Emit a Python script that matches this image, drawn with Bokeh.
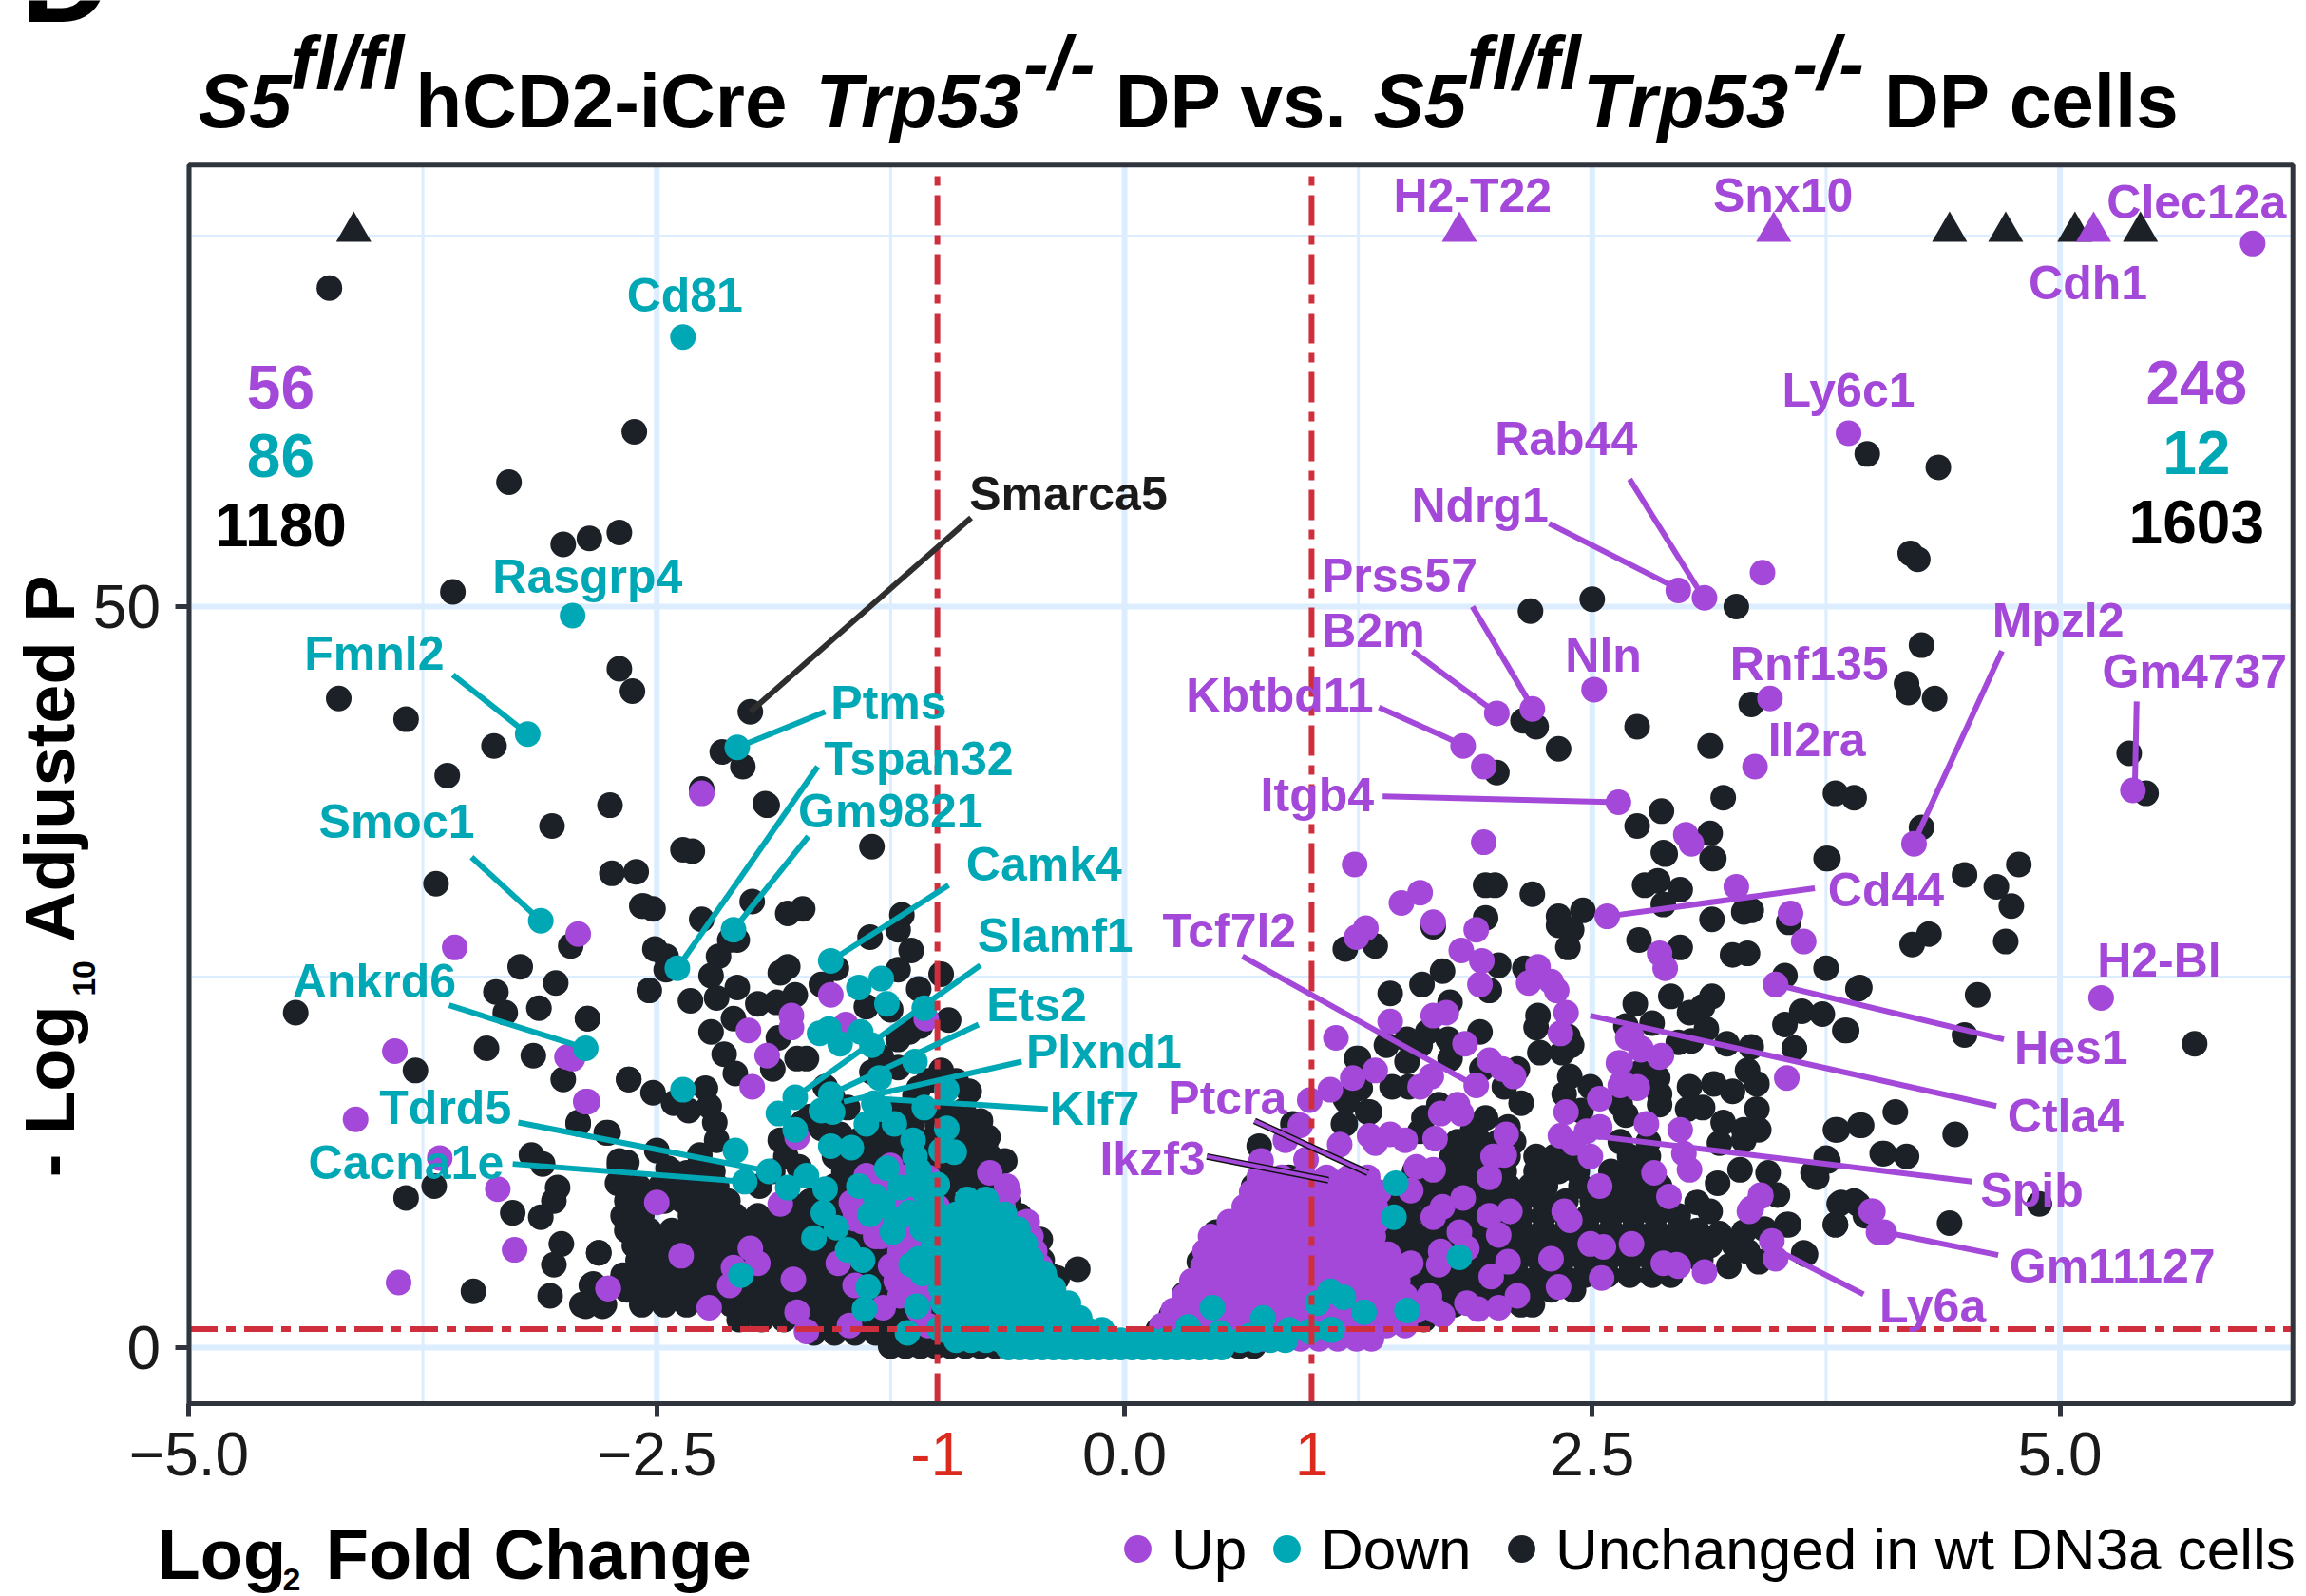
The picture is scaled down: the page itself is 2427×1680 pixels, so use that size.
from bokeh.plotting import figure
from bokeh.models import FixedTicker, Label, Legend, LegendItem, LinearAxis, Range1d
from bokeh.core.properties import value
from bokeh.embed import file_html
from bokeh.resources import INLINE
import math

PURPLE = "#A348D8"
TEAL = "#00A8B5"
DARK = "#1C2127"
RED = "#CF2F3D"
FRAME = "#30353D"
GRIDC = "#DCEDFF"
FONT = "Liberation Sans"

# ---------- sparse points (log2FC, -log10 padj) ----------
black_x = [-4.25,-2.62,-3.29,-3.0,-2.86,-2.70,-3.59,-2.70,-2.63,-4.20,-3.84,-3.37,-3.62,-2.75,-3.06,-3.68,-2.74,-2.61,-2.52,-2.36,
 -4.43,-2.96,-3.23,-3.04,-3.36,-3.31,-3.13,-2.87,-3.41,-3.16,-3.79,-3.0,-2.65,-2.92,-2.76,-3.17,-3.11,-3.69,-3.84,-2.70,-2.70,-3.03,-3.05,-3.27,-3.12,-3.01,-3.05,-2.81,-3.48,-3.07,-2.85,-2.9,-2.78,
 -2.0,-2.15,-1.92,-1.35,-2.04,-2.26,-2.31,-1.91,-2.58,-2.57,-2.26,-1.99,-1.80,-1.72,-2.51,-2.45,-2.45,-2.54,-2.17,-2.11,-2.21,-2.07,-2.32,-2.18,-2.07,-1.76,-1.96,-1.86,-1.84,-1.80,-2.09,-2.87,-2.21,-2.14,-2.08,-1.85,-1.75,-1.88,-1.70,-2.65,-2.52,-2.24,-2.41,-2.33,-2.22,-2.19,-2.18,-2.27,-2.77,-2.92,-2.5,-2.70,-2.66,-2.71,-2.44,-2.34,-2.81,-2.84,-2.88,-2.79,
 -1.62,-1.54,-1.36,-1.19,-1.21,-1.14,-1.21,-1.10,-0.98,-0.94,-1.38,-1.25,-1.15,-1.09,-1.21,-0.98,-0.83,-0.90,-0.77,-0.73,-0.64,-0.62,-0.53,-0.45,-0.25,-0.36,-1.35,-1.21,-1.56,-1.48,-1.84,-1.81,-1.74,-1.54,-1.40,-1.25,-1.30,-1.10,-1.0,-0.88,-0.80,-0.72,
 3.97,4.35,4.20,4.24,3.27,2.50,2.17,4.26,4.18,4.19,4.33,3.35,2.13,2.2,2.32,2.74,3.13,5.37,1.99,3.80,3.90,5.46,3.20,2.87,2.74,3.13,2.89,3.15,3.75,4.26,4.49,4.78,4.66,4.74,4.71,4.30,4.21,4.56,4.49,5.72,3.92,4.12,3.93,3.80,4.44,4.18,4.06,3.75,3.70,4.89,4.41,3.82,3.92,3.80,3.64,3.54,3.58,3.85,
 1.18,1.34,1.42,1.59,1.70,1.74,1.93,1.98,1.93,1.65,2.18,2.32,2.45,2.32,2.39,2.37,2.00,2.14,1.95,2.88,3.14,2.78,2.85,2.97,2.88,3.14,3.31,3.35,3.55,3.76,2.75,2.97,3.25,3.33,3.53,3.75,3.93,2.92,3.14,2.73,3.02,3.09,2.82,2.68,3.11,2.96,3.03,3.22,3.35,3.53,3.62,3.73,3.86,3.58,3.33,3.38,3.02,3.15,3.25,3.01,3.09,3.38,3.20,3.31,3.39,3.31,3.18,3.81,3.94,3.76,3.68,4.05,3.44,3.29,3.17,3.49,3.06,3.13,3.55,3.80,3.83,3.9,3.96,3.18,3.31,3.42,3.33,3.39,3.63,3.23,
 1.24,1.18,1.30,1.18,1.26,1.40,1.51,1.51,1.43,1.52,1.58,1.62,1.73,1.74,1.90,1.91,2.10,2.03,2.12,2.21,2.2,2.22,2.34,2.37,2.39,1.68,1.60,1.58,1.93,1.86,1.87,1.82,1.74,1.70,2.05,2.38,2.49,2.35,2.44,2.68,2.85,2.86,2.86,2.65,2.76,
 0.49,0.72,0.90,0.69,0.88,1.17,1.31,1.19,1.25,0.40,0.32,0.25,0.18,0.58,0.8,
 -1.72,-1.62,-1.52,-1.42,-1.32,-1.6,-1.68,-1.5,-1.4,-1.12,-1.05]
black_y = [71.5,61.8,58.4,54.2,54.6,55.0,51.0,45.8,44.3,43.8,42.4,40.6,38.6,36.6,35.2,31.3,32.0,32.1,29.6,33.6,
 22.6,27.1,25.7,24.6,24.0,22.6,22.9,22.2,20.2,19.7,18.7,18.1,18.1,15.1,14.5,13.0,12.4,10.9,10.1,12.3,11.2,10.8,9.9,9.1,8.8,7.0,5.6,6.4,3.8,3.5,4.2,2.9,2.9,
 42.9,40.2,36.7,33.8,39.2,37.7,33.5,36.6,29.8,29.8,28.9,30.1,29.3,29.6,26.9,26.4,25.5,24.1,26.4,27.5,25.1,27.5,23.4,23.6,24.3,23.8,23.2,23.3,25.3,25.7,22.2,22.2,21.3,19.8,18.5,20.9,19.5,18.8,19.5,18.1,17.2,17.5,16.5,16.0,16.3,15.2,14.0,13.0,14.5,15.2,13.3,12.6,12.5,11.1,12.1,11.8,6.4,4.3,2.8,2.8,
 24.5,25.6,27.7,29.2,28.2,26.8,25.5,24.2,25.2,22.1,23.0,22.8,21.3,21.7,20.8,18.7,17.3,18.0,15.3,14.2,12.6,9.9,8.5,7.3,5.3,4.7,18.6,18.9,16.9,16.2,14.0,12.9,12.2,12.9,13.8,13.8,19.6,17.5,15.5,14.6,13.2,11.4,
 60.3,59.4,53.6,53.2,50.0,50.5,49.7,47.4,44.8,44.2,43.8,43.4,42.3,41.9,40.4,41.9,40.6,40.1,38.8,37.4,37.1,37.4,37.1,36.2,35.2,34.7,33.3,33.0,33.0,35.1,31.9,32.6,31.1,29.8,27.4,27.9,27.2,23.8,21.1,20.5,24.2,15.9,15.0,14.7,14.4,12.9,13.1,12.8,11.5,9.7,8.4,9.7,9.7,8.3,6.3,8.3,20.2,21.4,
 26.9,27.1,23.9,24.5,25.4,23.3,31.2,31.2,29.0,28.4,30.6,29.1,29.5,28.5,28.2,27.0,25.8,25.6,24.1,33.4,33.0,31.2,31.5,30.9,29.9,28.9,29.4,29.5,28.7,33.0,27.5,27.0,26.5,26.6,25.1,25.6,24.3,23.7,23.7,23.2,22.6,23.0,21.9,21.7,21.5,20.6,20.7,20.5,20.3,21.8,22.7,22.5,21.4,20.2,18.7,17.8,17.6,17.8,17.3,16.1,16.2,16.1,15.2,14.7,14.7,14.0,13.8,14.7,15.0,12.6,11.8,13.1,11.8,12.0,11.1,10.3,9.8,9.2,8.3,8.3,9.8,9.9,8.9,7.7,7.8,8.0,6.5,5.8,6.4,5.5,
 19.5,16.8,15.9,15.1,17.5,20.4,20.8,19.3,17.6,17.6,20.4,21.3,20.8,19.5,21.3,18.8,18.8,17.6,16.5,22.4,21.6,19.9,19.9,21.0,20.4,16.4,15.5,14.6,15.5,14.6,13.5,12.2,12.4,11.1,14.9,18.3,17.6,17.1,16.0,15.7,18.2,17.1,16.4,16.4,18.6,
 7.8,13.6,15.1,10.9,11.5,15.1,15.9,16.6,19.5,5.8,3.6,2.2,1.2,0.9,0.8,
 15.2,14.8,14.4,14.0,13.6,17.6,15.6,12.2,11.4,17.0,18.0]

# dense black mass: each row holds the fold changes read at one -log10 level
black_rows = {
 0.1: [-1.25,-1.17,-1.09,-1.01,-0.93,-0.85,-0.77,-0.69,-0.61,-0.53,-0.45,-0.37,0.37,0.45,0.53,0.61,0.69],
 1.0: [-1.66,-1.55,-1.44,-1.33,-1.22,-1.11,-1.0,-0.89,-0.78,-0.67,-0.56,-0.45,0.62,0.73,0.84,0.95,1.06,1.14],
 1.9: [-2.06,-1.94,-1.82,-1.7,-1.58,-1.46,-1.34,-1.22,-1.1,-0.98,-0.86,-0.74,-0.62,-0.5,-0.38,1.12,1.24,1.36,1.48,1.6],
 2.9: [-2.58,-2.46,-2.34,-2.22,-2.1,-1.98,-1.86,-1.74,-1.62,-1.5,-1.38,-1.26,-1.14,-1.02,-0.9,-0.78,-0.66,-0.54,-0.42,-0.35,1.52,1.64,1.76,1.88,2.0,2.12,2.18],
 3.9: [-2.66,-2.54,-2.42,-2.3,-2.18,-2.06,-1.94,-1.82,-1.7,-1.58,-1.46,-1.34,-1.22,-1.1,-0.98,-0.86,-0.74,-0.62,-0.5,-0.38,1.56,1.68,1.8,1.92,2.04,2.16,2.28,2.4],
 4.9: [-2.68,-2.56,-2.44,-2.32,-2.2,-2.08,-1.96,-1.84,-1.72,-1.6,-1.48,-1.36,-1.24,-1.12,-1.0,-0.88,-0.76,-0.64,-0.52,-0.4,1.5,1.62,1.74,1.86,1.98,2.1,2.22,2.34,2.46,2.58,2.7,2.82,2.92],
 5.9: [-2.6,-2.48,-2.36,-2.24,-2.12,-2.0,-1.88,-1.76,-1.64,-1.52,-1.4,-1.28,-1.16,-1.04,-0.92,-0.8,-0.68,-0.56,-0.44,1.5,1.62,1.74,1.86,1.98,2.1,2.22,2.34,2.46,2.58,2.7,2.82,2.94,3.08],
 6.9: [-2.62,-2.5,-2.38,-2.26,-2.14,-2.02,-1.9,-1.78,-1.66,-1.54,-1.42,-1.3,-1.18,-1.06,-0.94,-0.82,-0.7,-0.58,-0.48,1.45,1.57,1.69,1.81,1.93,2.05,2.17,2.29,2.41,2.53,2.65,2.77,2.89,3.01,3.13,3.26],
 7.9: [-2.66,-2.54,-2.42,-2.3,-2.18,-2.06,-1.94,-1.82,-1.7,-1.58,-1.46,-1.34,-1.22,-1.1,-0.98,-0.86,-0.74,-0.62,-0.55,1.4,1.52,1.64,1.76,1.88,2.0,2.12,2.24,2.36,2.48,2.6,2.72,2.84,2.96,3.06],
 8.9: [-2.68,-2.58,-2.32,-2.2,-2.08,-1.96,-1.84,-1.72,-1.6,-1.48,-1.36,-1.24,-1.12,-1.0,-0.88,-0.76,-0.64,-0.56,1.4,1.52,1.64,1.76,1.88,2.0,2.12,2.24,2.36,2.48,2.6,2.72,2.84,2.96],
 9.9: [-2.66,-2.56,-2.46,-2.36,-2.24,-2.12,-1.8,-1.68,-1.56,-1.44,-1.32,-1.2,-1.08,-0.96,-0.84,-0.72,-0.62,1.4,1.52,1.64,1.76,1.88,2.0,2.12,2.24,2.36,2.5,2.62,2.74,2.86],
 10.9: [-2.6,-2.48,-2.38,-2.28,-2.18,-1.95,-1.55,-1.44,-1.32,-1.2,-1.08,-0.96,-0.84,-0.72,1.45,1.57,1.69,1.81,1.93,2.05,2.17,2.25,2.44,2.56,2.68,2.8,2.86],
 11.9: [-2.42,-2.3,-2.2,-1.88,-1.5,-1.4,-1.28,-1.16,-1.04,-0.92,-0.8,-0.7,1.55,1.67,1.79,1.91,2.03,2.2,2.32,2.42,2.6,2.7,2.8],
 12.9: [-1.55,-1.44,-1.32,-1.2,-1.08,-0.96,-0.84,-0.72,1.75,1.87,1.99,2.05,2.2,2.3,2.4,2.7,2.8],
 13.9: [-1.3,-1.18,-1.06,-0.94,-0.82,-0.74,1.78,1.9,2.0,2.08,2.65,2.8],
 15.0: [-1.28,-1.14,-1.0,-0.88,-0.8],
 16.0: [-1.2,-1.08,-0.96,-0.86],
}

purple_x = [3.87,3.41,2.96,3.10,2.51,3.45,2.18,1.99,1.81,3.37,1.92,5.39,4.22,2.64,3.03,3.0,1.92,1.23,3.27,3.56,3.63,3.48,2.58,3.54,5.22,4.0,4.06,3.46,3.48,3.35,3.4,6.03,
 -2.26,-2.92,-3.58,-3.90,-2.98,-4.11,-2.88,-3.66,-3.35,-3.26,-3.88,-2.76,
 1.48,1.58,1.65,1.29,1.24,1.88,1.80,1.91,1.90,2.21,2.16,2.31,2.28,2.36,2.33,2.86,2.89,1.42,1.65,1.72,1.13,1.82,1.95,2.02,2.08,1.88,1.64,1.58,1.34,1.22,1.10,0.99,1.78,1.69,1.80,2.04,1.66,2.03,1.97,1.95,1.31,1.42,1.50,1.34,1.15,0.94,0.86,0.73,0.97,1.56,1.65,1.53,2.36,2.33,2.40,2.47,2.54,2.49,2.54,2.65,2.66,2.74,2.69,2.76,2.86,2.79,2.97,2.99,2.54,2.83,2.91,2.35,2.38,1.81,1.70,1.65,1.95,2.06,2.0,2.05,1.96,2.10,2.0,1.89,1.83,1.79,1.69,1.68,1.83,2.28,2.32,2.49,2.56,2.71,2.55,2.88,2.96,1.41,1.53,1.63,1.70,2.64,2.65,2.74,2.87,2.71,2.76,3.02,3.40,3.34,3.99,4.03,2.95,3.10,
 -1.57,-1.78,-1.78,-2.01,-1.91,-1.99,-1.49,-1.06,-2.95,-2.87,-1.75,-1.84,-2.50,-2.37,-2.0,-1.96,-2.09,-2.11,-2.22,-2.76,-1.77,-1.75,-1.70,-1.47,-1.53,-1.44,-1.29,-1.23,-1.38,-1.25,-1.46,-1.44,-1.33,-1.15,-1.15,-0.94,-0.72,-0.63,-0.67,-0.54,-0.92,-0.9]
purple_y = [61.7,52.3,51.1,50.6,44.4,43.8,43.1,42.8,40.6,39.2,39.2,37.6,34.0,36.8,34.0,34.6,34.1,32.6,31.1,29.3,27.4,24.5,29.1,18.2,23.6,9.2,7.8,7.2,6.0,9.4,10.3,74.5,
 37.4,27.9,27.0,20.0,19.6,15.4,16.6,12.8,10.7,6.6,4.4,4.0,
 30.0,30.7,28.7,28.3,27.7,28.2,26.8,26.1,24.5,25.7,24.6,24.1,24.7,22.6,21.2,26.6,25.6,22.0,22.4,22.6,20.9,20.5,19.4,18.8,18.3,17.7,18.3,17.6,18.7,18.2,17.4,16.7,16.4,15.8,15.8,14.4,14.1,13.0,12.9,11.5,14.3,14.4,14.0,13.8,13.7,15.0,14.0,12.6,12.7,12.2,12.0,10.6,15.9,14.3,13.8,14.6,14.9,12.9,16.8,19.2,17.9,17.5,20.9,20.2,19.6,15.1,14.7,13.1,10.9,11.8,10.2,9.2,8.6,10.1,9.5,8.8,8.9,9.2,7.6,5.8,4.8,3.5,2.7,2.6,3.0,7.8,6.5,5.6,6.7,6.0,4.1,7.0,6.8,7.0,4.7,5.7,5.5,6.3,5.7,3.5,2.2,19.2,17.7,17.6,19.7,21.0,20.1,12.0,10.2,9.2,9.2,7.8,5.6,5.1,
 23.8,22.4,21.6,21.4,19.7,17.6,21.8,22.2,19.5,16.6,14.2,9.7,9.8,6.2,6.7,5.7,5.4,4.2,2.7,4.0,4.6,2.4,1.1,1.5,5.7,4.2,2.7,5.3,11.6,12.3,9.8,8.7,7.5,5.8,4.1,2.3,11.8,10.9,9.6,8.4,8.0,0.6]

# dense purple mass
purple_rows = {
 0.6: [0.14,0.24,0.34,0.44,0.54,0.64,0.74,0.84,0.94,1.04,1.14,1.24,1.32],
 1.5: [-1.05,-0.8,-0.6,-0.45,-0.3,0.2,0.3,0.4,0.5,0.6,0.7,0.8,0.9,1.0,1.1,1.2,1.3,1.4,1.5],
 2.5: [-1.1,-0.85,-0.62,-0.45,-0.34,0.26,0.36,0.46,0.56,0.66,0.76,0.86,0.96,1.06,1.16,1.26,1.36,1.46,1.56,1.66],
 3.5: [-1.2,-1.05,-0.95,0.32,0.42,0.52,0.62,0.72,0.82,0.92,1.02,1.12,1.22,1.32,1.42,1.5],
 4.5: [-1.22,-1.08,-0.96,-0.42,0.36,0.46,0.56,0.66,0.76,0.86,0.96,1.06,1.16,1.26,1.36,1.46],
 5.5: [-1.25,-1.12,-1.0,-0.45,0.42,0.52,0.62,0.72,0.82,0.92,1.02,1.12,1.22,1.32,1.42,1.5],
 6.5: [-1.2,-1.05,-0.92,-0.48,0.43,0.53,0.63,0.73,0.83,0.93,1.03,1.13,1.23,1.33],
 7.5: [-1.3,-1.15,-1.0,-0.5,0.46,0.56,0.66,0.76,0.86,0.96,1.06,1.16,1.26,1.33],
 8.5: [-1.4,-1.28,-1.15,-1.0,-0.52,0.56,0.66,0.76,0.86,0.96,1.06,1.16,1.26,1.35],
 9.5: [-1.45,-1.35,-1.2,-1.0,-0.65,0.64,0.74,0.84,0.94,1.04,1.14,1.24,1.34],
 10.5: [-1.4,-1.3,-1.15,-0.62,0.68,0.78,0.88,0.98,1.08,1.18,1.28,1.36],
 11.5: [-1.3,-1.18,-1.05,0.72,0.84,0.96,1.08,1.2,1.3],
}

teal_x = [-2.36,-2.95,-3.19,-2.07,-3.12,-2.39,-2.09,-1.57,-1.42,-1.30,-1.27,-1.07,-2.88,-2.36,-1.63,-1.58,-1.52,-1.41,-1.35,-1.12,-1.31,-1.57,-1.76,-1.85,-1.76,-1.56,-1.62,-1.34,-1.07,-0.95,-1.31,-1.38,-1.23,-1.57,-1.46,-1.13,-0.95,-0.98,-0.91,-1.12,-1.1,-2.08,-1.90,-2.03,-1.80,-1.70,-1.60,-1.61,-1.54,-1.66,-1.48,-1.40,-1.37,-1.39,-2.05,-1.11,-1.16,-0.99,-1.42,-1.27,-1.29,-1.24,-1.15,-1.07,-1.14,-1.06,
 1.45,1.44,1.79,1.51,1.28,1.10,1.17,1.1,0.47,0.74,1.03,0.34,0.88,0.99,1.11,0.51,0.67,
 -1.33,-1.2,-1.02,-1.36,-1.22,-1.08,-1.12]
teal_y = [68.2,49.4,41.4,40.5,28.8,25.6,28.2,26.1,24.3,24.9,23.2,22.9,20.2,17.4,21.2,21.5,20.5,21.3,20.4,19.3,18.2,17.1,16.9,15.8,14.7,15.9,16.0,16.5,16.2,17.4,16.1,15.1,15.1,13.6,13.5,14.0,14.8,13.3,13.2,12.9,12.0,13.3,11.9,11.2,10.8,11.6,10.7,9.1,8.1,7.4,6.6,5.9,4.1,2.6,4.9,2.8,1.0,1.3,10.9,12.1,9.6,7.8,9.1,10.5,5.6,5.8,
 11.1,8.8,6.1,2.5,2.4,3.8,3.4,1.2,2.7,2.0,3.0,1.4,1.2,1.1,1.2,1.0,0.8,
 10.2,10.8,9.2,9.0,8.6,8.0,11.0]

# dense teal mass
teal_rows = {
 0.0: [-0.62,-0.56,-0.5,-0.44,-0.38,-0.32,-0.26,-0.2,-0.14,-0.08,-0.02,0.04,0.1,0.16,0.22,0.28,0.34,0.4,0.46,0.52],
 0.5: [-0.9,-0.82,-0.74,-0.66,-0.58,-0.5,-0.42,-0.34,-0.26,-0.18,-0.1,-0.02,0.06,0.14,0.22,0.3,0.38,0.46,0.54,0.62,0.7,0.78,0.86],
 1.2: [-0.98,-0.88,-0.78,-0.68,-0.58,-0.48,-0.38,-0.28,-0.2,-0.12],
 2.0: [-0.93,-0.83,-0.73,-0.63,-0.53,-0.43,-0.33,-0.24],
 3.0: [-0.97,-0.87,-0.77,-0.67,-0.57,-0.47,-0.37,-0.3],
 4.0: [-0.98,-0.88,-0.78,-0.68,-0.58,-0.48,-0.38],
 5.0: [-1.08,-0.98,-0.88,-0.78,-0.68,-0.58,-0.48,-0.43],
 6.0: [-1.1,-1.0,-0.9,-0.8,-0.7,-0.6,-0.5],
 7.0: [-1.02,-0.92,-0.82,-0.72,-0.62,-0.53],
 8.0: [-0.98,-0.86,-0.76,-0.66,-0.57],
 9.0: [-1.0,-0.9,-0.8,-0.7,-0.64],
 10.0: [-1.04,-0.84,-0.74],
 11.0: [-1.1,-1.0],
}

tri_black_x = [-4.12,4.41,4.71,5.08,5.43]
tri_purple_x = [1.79,3.47,5.18]
tri_y = 75.3

# ---------- gene labels ----------
gene_names = ["Cd81","Rasgrp4","Fmnl2","Ptms","Tspan32","Gm9821","Smoc1","Camk4","Slamf1","Ankrd6","Ets2","Plxnd1","Klf7","Tdrd5","Cacna1e"]
gene_x = [-2.35,-2.87,-4.01,-1.26,-1.10,-1.25,-3.89,-0.43,-0.37,-4.01,-0.47,-0.11,-0.16,-3.63,-3.84]
gene_y = [71.0,52.0,46.8,43.5,39.7,36.2,35.5,32.6,27.8,24.7,23.1,20.0,16.1,16.2,12.5]

up_names = ["H2-T22","Snx10","Clec12a","Cdh1","Ly6c1","Rab44","Ndrg1","Prss57","B2m","Nln","Rnf135","Mpzl2","Gm4737","Kbtbd11","Il2ra","Itgb4","Cd44","Tcf7l2","H2-Bl","Hes1","Ptcra","Ctla4","Ikzf3","Spib","Gm11127","Ly6a"]
up_x = [1.86,3.52,5.73,5.15,3.87,2.36,1.90,1.47,1.33,2.56,3.66,4.99,5.72,0.83,3.70,1.03,4.07,0.56,5.53,5.06,0.55,5.03,0.15,4.85,5.28,4.32]
up_y = [77.7,77.7,77.3,71.8,64.6,61.3,56.8,52.1,48.4,46.7,46.1,49.1,45.6,44.0,41.0,37.3,30.9,28.1,26.1,20.2,16.8,15.6,12.7,10.6,5.5,2.8]

# connector segments
teal_seg_x0 = [-3.59,-1.60,-1.64,-1.69,-3.49,-0.94,-0.77,-0.78,-0.55,-0.41,-3.24,-3.27,-3.61]
teal_seg_y0 = [45.4,42.9,39.2,34.5,33.1,31.2,25.8,21.8,19.3,16.1,15.2,12.4,23.1]
teal_seg_x1 = [-3.19,-2.07,-2.39,-2.09,-3.12,-1.57,-1.76,-1.57,-1.5,-1.32,-1.90,-2.03,-2.88]
teal_seg_y1 = [41.4,40.5,25.6,28.2,28.8,26.1,16.9,17.1,16.6,16.8,11.9,11.2,20.2]

up_seg_x0 = [2.70,2.27,1.86,1.54,1.36,1.38,4.69,5.41,3.69,0.63,4.70,4.66,4.53,4.67,3.95]
up_seg_y0 = [58.6,55.6,50.0,47.0,43.2,37.2,47.0,43.6,31.0,26.4,20.8,16.3,11.2,6.25,3.6]
up_seg_x1 = [3.10,2.96,2.18,2.0,1.82,2.64,4.22,5.40,2.58,1.87,3.48,2.49,2.37,4.06,3.47]
up_seg_y1 = [50.5,51.2,43.2,42.7,40.6,36.8,34.1,37.6,29.1,17.7,24.5,22.4,14.5,7.8,6.7]

outlined_seg_x0 = [0.695,0.44]
outlined_seg_y0 = [15.3,12.9]
outlined_seg_x1 = [1.30,1.09]
outlined_seg_y1 = [11.8,11.3]

smarca_seg = ([-0.82],[56.0],[-2.0],[42.9])

# ---------- axes ----------
x_major = [-5,-2.5,0,2.5,5]
x_minor = [-3.75,-1.25,1.25,3.75]
y_major = [0,50]
y_minor = [25,75]
x_tick_labels = {-5:"\u22125.0",-2.5:"\u22122.5",0:"0.0",2.5:"2.5",5:"5.0"}
red_ticks = [-1,1]
x_lim = (-5.0,6.245)
y_lim = (-3.78,79.8)
p_cut = 1.25
# range of the whole canvas, so that titles and legends can sit around the panel
x_full = (-6.008,6.277)
y_full = (-16.79,90.9)

def expand(rows):
    xs, ys = [], []
    for yv, row in rows.items():
        xs += row
        ys += [yv]*len(row)
    return xs, ys

p = figure(width=2419, height=1680, x_range=Range1d(*x_full), y_range=Range1d(*y_full),
           output_backend="svg", toolbar_location=None,
           min_border_left=0, min_border_right=0, min_border_top=0, min_border_bottom=0,
           background_fill_color="white", border_fill_color="white")
p.outline_line_color = None
p.grid.visible = False

for ax, maj, loc in ((p.xaxis[0], x_major, y_lim[0]), (p.yaxis[0], y_major, x_lim[0])):
    ax.ticker = FixedTicker(ticks=maj)
    ax.fixed_location = loc
    ax.axis_line_color = None
    ax.major_tick_line_color = FRAME
    ax.major_tick_line_width = 5
    ax.major_tick_out = 14
    ax.major_tick_in = 0
    ax.minor_tick_line_color = None
    ax.major_label_text_font = FONT
    ax.major_label_text_font_size = "64px"
    ax.major_label_text_color = "#1A1A1A"
p.xaxis[0].major_label_overrides = x_tick_labels
p.xaxis[0].major_label_standoff = 16
p.yaxis[0].major_label_standoff = 16
p.yaxis[0].major_label_orientation = "horizontal"

red_axis = LinearAxis(ticker=FixedTicker(ticks=red_ticks), fixed_location=y_lim[0],
                      major_label_overrides={-1:"-1",1:"1"}, axis_line_color=None,
                      major_tick_line_color=None, minor_tick_line_color=None, major_tick_out=14, major_tick_in=0,
                      major_label_standoff=16, major_label_text_font=FONT, major_label_text_font_size="64px",
                      major_label_text_color="#DB2A1E")
p.add_layout(red_axis, "below")

# gridlines
p.segment(x_major, [y_lim[0]]*5, x_major, [y_lim[1]]*5, line_color=GRIDC, line_width=6)
p.segment(x_minor, [y_lim[0]]*4, x_minor, [y_lim[1]]*4, line_color=GRIDC, line_width=3)
p.segment([x_lim[0]]*2, y_major, [x_lim[1]]*2, y_major, line_color=GRIDC, line_width=6)
p.segment([x_lim[0]]*2, y_minor, [x_lim[1]]*2, y_minor, line_color=GRIDC, line_width=3)

SIZE = 27
bx, by = expand(black_rows)
r_black = p.scatter(black_x + bx, black_y + by, size=SIZE, marker="circle", color=DARK, line_color=None)
p.scatter(tri_black_x, [tri_y]*len(tri_black_x), size=37, marker="triangle", color=DARK, line_color=None)
px, py = expand(purple_rows)
r_up = p.scatter(purple_x + px, purple_y + py, size=SIZE, marker="circle", color=PURPLE, line_color=None)
p.scatter(tri_purple_x, [tri_y]*len(tri_purple_x), size=37, marker="triangle", color=PURPLE, line_color=None)
tx, ty = expand(teal_rows)
r_down = p.scatter(teal_x + tx, teal_y + ty, size=SIZE, marker="circle", color=TEAL, line_color=None)

# threshold lines
p.segment(red_ticks, [y_lim[0]]*2, red_ticks, [y_lim[1]]*2, line_color=RED, line_width=6, line_dash="32 10 10 10")
p.segment([x_lim[0]], [p_cut], [x_lim[1]], [p_cut], line_color=RED, line_width=6, line_dash="30 9 10 9")

# panel frame
p.quad(left=[x_lim[0]], right=[x_lim[1]], bottom=[y_lim[0]], top=[y_lim[1]], fill_color=None, line_color=FRAME, line_width=5)

# connectors
p.segment(teal_seg_x0, teal_seg_y0, teal_seg_x1, teal_seg_y1, line_color=TEAL, line_width=6)
p.segment(up_seg_x0, up_seg_y0, up_seg_x1, up_seg_y1, line_color=PURPLE, line_width=6)
p.segment(outlined_seg_x0, outlined_seg_y0, outlined_seg_x1, outlined_seg_y1, line_color="#111111", line_width=7)
p.segment(outlined_seg_x0, outlined_seg_y0, outlined_seg_x1, outlined_seg_y1, line_color=PURPLE, line_width=4)
p.segment(*smarca_seg, line_color="#2E2E2E", line_width=6)

def gene_text(names, xs, ys, color):
    p.text(xs, ys, text=names, text_color=color, text_font=value(FONT), text_font_style="bold",
           text_font_size="50px", text_align="center", text_baseline="middle")

gene_text(gene_names, gene_x, gene_y, TEAL)
gene_text(up_names, up_x, up_y, PURPLE)
gene_text(["Smarca5"], [-0.30], [57.6], "#1A1A1A")

# group counts
count_x = [-4.51,-4.51,-4.51,5.73,5.73,5.73]
count_y = [64.8,60.2,55.5,65.1,60.4,55.7]
count_txt = ["56","86","1180","248","12","1603"]
count_col = [PURPLE,TEAL,"#000000",PURPLE,TEAL,"#000000"]
p.text(count_x, count_y, text=count_txt, text_color=count_col, text_font=value(FONT), text_font_style="bold",
       text_font_size="64px", text_align="center", text_baseline="middle")

def lab(x, y, text, size, style="bold", color="#000000", angle=0, align="left"):
    # Label's alphabetic anchor sits about a third of an em off the true baseline
    if angle:
        x -= 0.42*size/196.9
    else:
        y += 0.35*size/15.6
    p.add_layout(Label(x=x, y=y, text=text, text_font=FONT, text_font_style=style, text_font_size=f"{size}px",
                       text_color=color, angle=angle, text_align=align, text_baseline="alphabetic"))

# title runs
BASE, SUP = 82.3, 84.9
for xx, yy, tt, st in [(-4.95,BASE,"S5","bold italic"),(-4.46,SUP,"fl/fl","bold italic"),(-3.79,BASE,"hCD2-iCre","bold"),
                       (-1.65,BASE,"Trp53","bold italic"),(-0.54,SUP,"-/-","bold italic"),(-0.05,BASE,"DP vs.","bold"),
                       (1.33,BASE,"S5","bold italic"),(1.83,SUP,"fl/fl","bold italic"),(2.45,BASE,"Trp53","bold italic"),
                       (3.57,SUP,"-/-","bold italic"),(4.06,BASE,"DP cells","bold")]:
    lab(xx, yy, tt, 80, st)
lab(-5.9, 89.4, "D", 130)

# axis titles
lab(-5.17, -15.6, "Log", 74)
lab(-4.5, -16.4, "2", 34)
lab(-4.27, -15.6, "Fold Change", 74)
lab(-5.587, 11.5, "- Log", 74, angle=math.pi/2)
lab(-5.49, 23.7, "10", 34, angle=math.pi/2)
lab(-5.587, 27.35, "Adjusted P", 74, angle=math.pi/2)

# legends
for rend, name, lx in ((r_up,"Up",1161),(r_down,"Down",1318),(r_black,"Unchanged in wt DN3a cells",1565)):
    leg = Legend(items=[LegendItem(label=name, renderers=[rend])], location=(lx,14),
                 orientation="horizontal", glyph_width=72, glyph_height=72, label_height=72, label_standoff=0,
                 padding=0, margin=0, border_line_color=None, background_fill_alpha=0,
                 label_text_font=FONT, label_text_font_size="62px", label_text_color="#000000",
                 label_text_baseline="middle")
    p.add_layout(leg, "center")

open("out.html", "w").write(file_html(p, INLINE))
